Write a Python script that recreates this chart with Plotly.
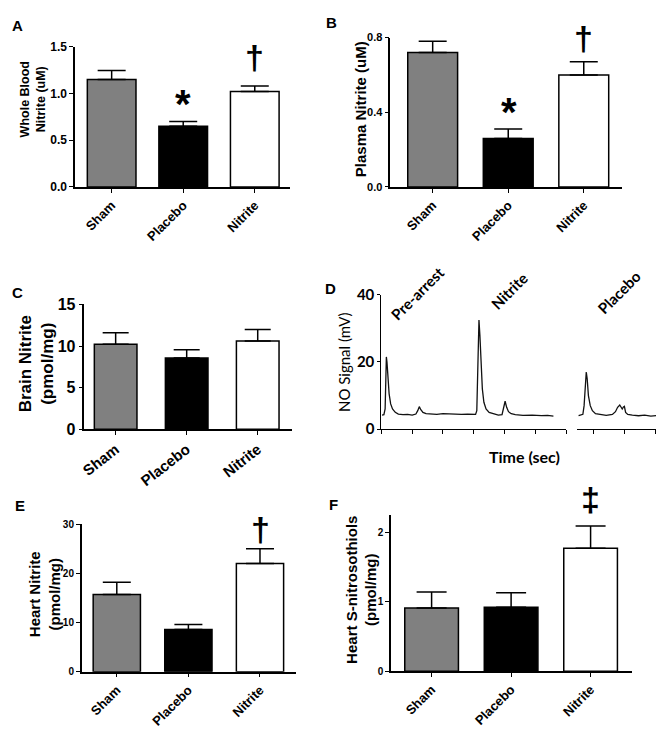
import plotly.graph_objects as go

# ---------------- data ----------------
groups = ["Sham", "Placebo", "Nitrite"]
bar_colors = ["#808080", "#000000", "#ffffff"]

whole_blood_mean = [1.15, 0.65, 1.02]
whole_blood_sem = [0.095, 0.05, 0.06]

plasma_mean = [0.72, 0.26, 0.60]
plasma_sem = [0.06, 0.05, 0.07]

brain_mean = [10.2, 8.55, 10.6]
brain_sem = [1.4, 1.0, 1.4]

heart_mean = [15.7, 8.6, 22.0]
heart_sem = [2.5, 1.0, 3.0]

heart_sno_mean = [0.91, 0.92, 1.77]
heart_sno_sem = [0.23, 0.21, 0.32]

# NO chemiluminescence traces (mV) - pre-arrest + nitrite injections
trace1_time = [0.02, 0.08, 0.12, 0.14, 0.16, 0.18, 0.21, 0.25, 0.30, 0.36, 0.45, 0.55,
               0.70, 0.85, 1.00, 1.12, 1.18, 1.23, 1.28, 1.35, 1.45, 1.60, 1.80, 2.00,
               2.20, 2.40, 2.60, 2.80, 3.00, 3.06, 3.10, 3.13, 3.17, 3.20, 3.24, 3.28,
               3.33, 3.40, 3.50, 3.65, 3.80, 3.92, 3.97, 4.02, 4.07, 4.13, 4.22, 4.35,
               4.60, 4.90, 5.20, 5.40, 5.59]
trace1_signal = [4.2, 4.3, 6.0, 14.0, 21.5, 20.0, 15.0, 10.5, 7.5, 6.0, 5.0, 4.5,
                 4.3, 4.4, 4.2, 4.5, 5.5, 6.7, 5.8, 5.0, 4.6, 4.5, 4.4, 4.6,
                 4.5, 4.6, 4.4, 4.5, 4.3, 4.4, 5.5, 20.0, 32.5, 28.0, 19.0, 12.0,
                 8.0, 6.0, 5.0, 4.5, 4.2, 4.3, 6.0, 8.3, 6.5, 5.2, 4.6, 4.3,
                 4.1, 4.2, 4.0, 4.1, 3.9]
# placebo injection trace
trace2_time = [-0.50, -0.42, -0.36, -0.32, -0.28, -0.25, -0.22, -0.18, -0.12, -0.05,
               0.05, 0.20, 0.40, 0.60, 0.70, 0.77, 0.84, 0.88, 0.92, 0.96, 0.99, 1.03,
               1.10, 1.25, 1.45, 1.65, 1.85, 2.02]
trace2_signal = [4.0, 4.2, 4.4, 7.0, 14.0, 17.0, 15.0, 10.0, 7.0, 5.5,
                 4.6, 4.3, 4.1, 4.4, 5.2, 6.5, 7.2, 6.6, 6.0, 6.6, 6.8, 5.0,
                 4.4, 4.2, 4.0, 4.2, 3.9, 4.0]

W, H = 662, 734
ARIAL = "Liberation Sans, Arial, sans-serif"
CAL = "Lato, Carlito, Calibri, sans-serif"


def px_x(a, b):
    return [a / W, b / W]


def px_y(top, bottom):
    return [1 - bottom / H, 1 - top / H]


fig = go.Figure()

panels = [
    # axis id, means, sems, xdom(px), ydom(px), xrange, yrange, dtick, fmt, bar width, cap, ytick font, xtick font, angle
    ("", whole_blood_mean, whole_blood_sem, (70.7, 287), (37.7, 181.7), [-0.51, 2.49], [0, 1.5], 0.5, ".1f", 0.68, 14, 12, 13, -45),
    ("2", plasma_mean, plasma_sem, (388.3, 622), (28.3, 181.7), [-0.56, 2.51], [0, 0.8], 0.4, ".1f", 0.66, 14, 11, 13, -45),
    ("3", brain_mean, brain_sem, (80, 289), (302.3, 430.3), [-0.44, 2.48], [0, 15], 5, "d", 0.6, 13, 16, 15, -38),
    ("5", heart_mean, heart_sem, (77.3, 293), (527.7, 679.3), [-0.49, 2.5], [0, 30], 10, "d", 0.66, 14, 10, 13, -45),
    ("6", heart_sno_mean, heart_sno_sem, (389, 631.7), (518.3, 678.7), [-0.51, 2.52], [0, 2.25], 1, "d", 0.675, 15, 10, 13, -45),
]

for (aid, means, sems, xd, yd, xr, yr, dt, fmt, bw, capw, yfs, xfs, ang) in panels:
    fig.add_trace(go.Bar(
        x=groups, y=means, width=bw,
        marker=dict(color=bar_colors, line=dict(color="black", width=1.5)),
        error_y=dict(type="data", array=sems, arrayminus=[0] * len(sems), symmetric=False,
                     color="black", thickness=1.5, width=capw),
        xaxis="x" + aid, yaxis="y" + aid, showlegend=False, hoverinfo="skip",
    ))
    fig.layout["xaxis" + aid] = dict(
        domain=px_x(*xd), anchor="y" + aid, type="category", range=xr,
        showline=True, linecolor="black", linewidth=1.5, ticks="outside", ticklen=4,
        tickwidth=1.2, tickcolor="black", showgrid=False, zeroline=False,
        tickangle=ang, tickfont=dict(family=ARIAL, size=xfs, color="black", weight="bold"),
    )
    fig.layout["yaxis" + aid] = dict(
        domain=px_y(*yd), anchor="x" + aid, range=yr, dtick=dt, tick0=0, tickformat=fmt,
        showline=True, linecolor="black", linewidth=1.5, ticks="outside", ticklen=4,
        tickwidth=1.2, tickcolor="black", showgrid=False, zeroline=False,
        tickfont=dict(family=ARIAL, size=yfs, color="black", weight="bold"),
    )

# Panel D traces
fig.add_trace(go.Scatter(x=trace1_time, y=trace1_signal, mode="lines",
                         line=dict(color="#111111", width=1.3), xaxis="x4", yaxis="y4",
                         showlegend=False, hoverinfo="skip"))
fig.add_trace(go.Scatter(x=trace2_time, y=trace2_signal, mode="lines",
                         line=dict(color="#111111", width=1.3), xaxis="x7", yaxis="y4",
                         showlegend=False, hoverinfo="skip"))
fig.layout["xaxis4"] = dict(
    domain=px_x(379.3, 565.3), anchor="y4", range=[0, 6], tickvals=[0, 1, 2, 3, 4, 5, 6],
    showticklabels=False, showline=True, linecolor="black", linewidth=1.2,
    ticks="outside", ticklen=4, tickcolor="black", tickwidth=1, showgrid=False, zeroline=False)
fig.layout["xaxis7"] = dict(
    domain=px_x(576.7, 656), anchor="y4", range=[-0.54, 2.02], tickvals=[0, 1, 2],
    showticklabels=False, showline=True, linecolor="black", linewidth=1.2,
    ticks="outside", ticklen=4, tickcolor="black", tickwidth=1, showgrid=False, zeroline=False)
fig.layout["yaxis4"] = dict(
    domain=px_y(292.3, 430.3), anchor="x4", range=[0, 40], dtick=20, tick0=0,
    showline=True, linecolor="black", linewidth=1.2, ticks="outside", ticklen=3,
    tickcolor="black", showgrid=False, zeroline=False,
    tickfont=dict(family=CAL, size=15, color="black", weight="bold"))

ann = []


def paper_text(text, x, y, size, family=ARIAL, weight="bold", angle=0):
    ann.append(dict(text=text, x=x / W, y=1 - y / H, xref="paper", yref="paper",
                    showarrow=False, xanchor="center", yanchor="middle", textangle=angle,
                    font=dict(family=family, size=size, color="black", weight=weight)))


# panel letters
paper_text("A", 12.5, 15.5, 15)
paper_text("B", 329, 13, 15)
paper_text("C", 13, 290, 15)
paper_text("D", 328, 286, 15)
paper_text("E", 15, 509, 15)
paper_text("F", 331.5, 508, 15)

# y titles
paper_text("Whole Blood<br>Nitrite (uM)", 28, 92, 12.5, angle=-90)
paper_text("Plasma Nitrite (uM)", 358.5, 102, 15, angle=-90)
paper_text("Brain Nitrite<br>(pmol/mg)", 32, 363, 17, angle=-90)
paper_text("NO Signal (mV)", 341.5, 361.5, 15, CAL, "normal", angle=-90)
paper_text("Heart Nitrite<br>(pmol/mg)", 40, 600, 15, angle=-90)
paper_text("Heart S-nitrosothiols<br>(pmol/mg)", 359, 595, 15, angle=-90)

# panel D labels
paper_text("Time (sec)", 523, 458, 16, CAL)
paper_text("Pre-arrest", 416, 291, 15, CAL, angle=-45)
paper_text("Nitrite", 507.5, 288, 15, CAL, angle=-45)
paper_text("Placebo", 619, 290, 15, CAL, angle=-45)

# significance symbols (glyph centres in px)
paper_text("*", 179.5, 97, 40)
paper_text("\u2020", 251.5, 48, 34)
paper_text("*", 507.5, 105, 40)
paper_text("\u2020", 583, 29, 34)
paper_text("\u2020", 257, 533, 34)
paper_text("\u2021", 590, 502, 34)

fig.update_layout(
    width=W, height=H, margin=dict(l=0, r=0, t=0, b=0),
    paper_bgcolor="white", plot_bgcolor="white", showlegend=False,
    annotations=ann, hovermode=False,
)

fig.write_html("out.html", config={"displayModeBar": False},
               post_script="document.body.style.margin='0px';")
